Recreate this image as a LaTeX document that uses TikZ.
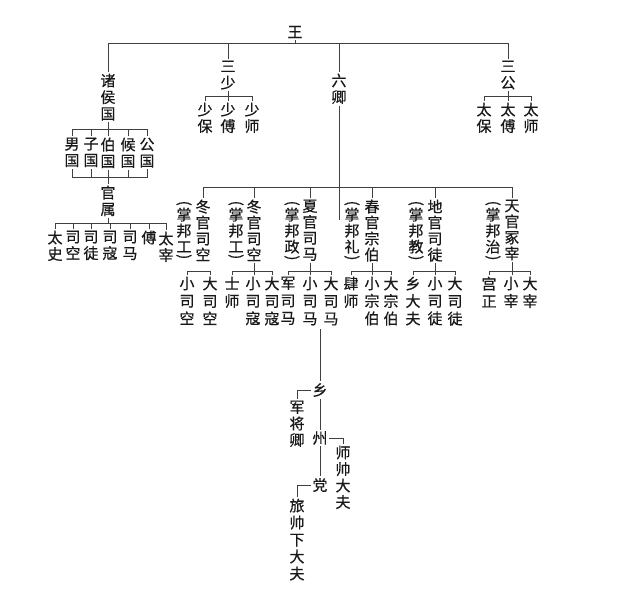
\documentclass[tikz,border=0pt]{standalone}
\usepackage{fontspec}
\usepackage{graphicx}
\newfontfamily\cjk{Noto Sans CJK SC}[FakeBold=0.5]
\begin{document}
\begin{tikzpicture}[x=1pt,y=-1pt,
  txt/.style={font=\cjk\fontsize{15}{16.5}\selectfont, text=black!90, inner sep=1.5pt, align=center},
  vt/.style={txt, anchor=north},
  vtm/.style={txt, anchor=north, font=\cjk\fontsize{15}{16}\selectfont},
  vtw/.style={txt, anchor=north, font=\cjk\fontsize{15}{17.5}\selectfont},
  par/.style={txt, inner sep=0pt},
  ln/.style={draw=black!75, line width=1pt}]
\useasboundingbox[fill=white] (0,0) rectangle (640,602);

% ---- top level
\node[txt] (wang) at (295,32) {王};
\node[vt] (zhuhou) at (108,72) {诸\\侯\\国};
\node[vt] (sanshao) at (228,59) {三\\少};
\node[vt] (liuqing) at (339,72) {六\\卿};
\node[vt] (sangong) at (508,59) {三\\公};
\coordinate (topbar) at (0,44);
\draw[ln] (wang.south) -- (wang.south |- topbar);
\draw[ln] (zhuhou.north) -- (zhuhou.north |- topbar) -- (sangong.north |- topbar) -- (sangong.north);
\draw[ln] (sanshao.north) -- (sanshao.north |- topbar);
\draw[ln] (liuqing.north) -- (liuqing.north |- topbar);

% ---- san shao
\node[vt] (sb) at (205,101) {少\\保};
\node[vt] (sf) at (228,101) {少\\傅};
\node[vt] (ss) at (252,101) {少\\师};
\coordinate (sbar) at (0,96);
\draw[ln] (sb.north) -- (sb.north |- sbar) -- (ss.north |- sbar) -- (ss.north);
\draw[ln] (sanshao.south) -- (sf.north);

% ---- san gong
\node[vt] (tb) at (484,101) {太\\保};
\node[vt] (tf) at (508,101) {太\\傅};
\node[vt] (ts) at (531,101) {太\\师};
\draw[ln] (tb.north) -- (tb.north |- sbar) -- (ts.north |- sbar) -- (ts.north);
\draw[ln] (sangong.south) -- (tf.north);

% ---- zhu hou guo
\node[vt] (n1) at (72,136) {男\\国};
\node[vt] (n2) at (91,136) {子\\国};
\node[vt] (n3) at (108,136) {伯\\国};
\node[vt] (n4) at (128,136) {候\\国};
\node[vt] (n5) at (147,136) {公\\国};
\coordinate (zbar) at (0,129);
\draw[ln] (n1.north) -- (n1.north |- zbar) -- (n5.north |- zbar) -- (n5.north);
\foreach \n in {n2,n3,n4} \draw[ln] (\n.north) -- (\n.north |- zbar);
\draw[ln] (zhuhou.south) -- (zhuhou.south |- zbar);
\coordinate (gbar) at (0,177);
\draw[ln] (n1.south) -- (n1.south |- gbar) -- (n5.south |- gbar) -- (n5.south);
\foreach \n in {n2,n3,n4} \draw[ln] (\n.south) -- (\n.south |- gbar);
\node[vt] (guanshu) at (108,184) {官\\属};
\draw[ln] (guanshu.north) -- (guanshu.north |- gbar);

% ---- guan shu children
\node[vt] (g1) at (55,229) {太\\史};
\node[vt] (g2) at (73,229) {司\\空};
\node[vt] (g3) at (91,229) {司\\徒};
\node[vt] (g4) at (110,229) {司\\寇};
\node[vt] (g5) at (130,229) {司\\马};
\node[vt] (g6) at (149,229) {傅};
\node[vt] (g7) at (166,230) {太\\宰};
\coordinate (obar) at (0,223.5);
\draw[ln] (g1.north) -- (g1.north |- obar) -- (g7.north |- obar) -- (g7.north);
\foreach \n in {g2,g3,g4,g5,g6} \draw[ln] (\n.north) -- (\n.north |- obar);
\draw[ln] (guanshu.south) -- (guanshu.south |- obar);

% ---- six ministries
\node[vtm] (m1) at (203,198) {冬\\官\\司\\空};
\node[vtm] (m2) at (254,198) {冬\\官\\司\\空};
\node[vtm] (m3) at (310,198) {夏\\官\\司\\马};
\node[vtm] (m4) at (372,198) {春\\官\\宗\\伯};
\node[vtm] (m5) at (435,198) {地\\官\\司\\徒};
\node[vtm] (m6) at (512,198) {天\\官\\冢\\宰};
% (zhang bang ...) columns
\node[vtm] (pt1) at (184,206) {掌\\邦\\工};
\node[vtm] (pt2) at (236,206) {掌\\邦\\工};
\node[vtm] (pt3) at (292,206) {掌\\邦\\政};
\node[vtm] (pt4) at (352,206) {掌\\邦\\礼};
\node[vtm] (pt5) at (416,206) {掌\\邦\\教};
\node[vtm] (pt6) at (493,206) {掌\\邦\\治};
\foreach \i in {1,...,6} {
  \node[par, anchor=south] (po\i) at (pt\i.north) {\rotatebox{-90}{(}};
  \node[par, anchor=north] (pc\i) at (pt\i.south) {\rotatebox{-90}{)}};
}
\coordinate (mbar) at (0,187);
\coordinate (lqend) at (339,220);
\draw[ln] (liuqing.south) -- (lqend);
\draw[ln] (m1.north) -- (m1.north |- mbar) -- (m6.north |- mbar) -- (m6.north);
\foreach \n in {m2,m3,m4,m5} \draw[ln] (\n.north) -- (\n.north |- mbar);

% ---- ministry children
\node[vtw] (c11) at (187,275) {小\\司\\空};
\node[vtw] (c12) at (210,275) {大\\司\\空};
\node[vtw] (c21) at (232,275) {士\\师};
\node[vtw] (c22) at (253,275) {小\\司\\寇};
\node[vtw] (c23) at (272,275) {大\\司\\寇};
\node[vtw] (c31) at (288,275) {军\\司\\马};
\node[vtw] (c32) at (310,275) {小\\司\\马};
\node[vtw] (c33) at (331,275) {大\\司\\马};
\node[vtw] (c41) at (351,275) {肆\\师};
\node[vtw] (c42) at (372,275) {小\\宗\\伯};
\node[vtw] (c43) at (391,275) {大\\宗\\伯};
\node[vtw] (c51) at (413,275) {乡\\大\\夫};
\node[vtw] (c52) at (435,275) {小\\司\\徒};
\node[vtw] (c53) at (455,275) {大\\司\\徒};
\node[vtw] (c61) at (489,275) {宫\\正};
\node[vtw] (c62) at (511,275) {小\\宰};
\node[vtw] (c63) at (530,275) {大\\宰};
\coordinate (cbar) at (0,271.5);
\draw[ln] (c11.north) -- (c11.north |- cbar) -- (c12.north |- cbar) -- (c12.north);
\foreach \i in {2,...,6} {
  \draw[ln] (c\i1.north) -- (c\i1.north |- cbar) -- (c\i3.north |- cbar) -- (c\i3.north);
  \draw[ln] (m\i.south) -- (m\i.south |- c\i2.north);
}

% ---- local chain
\coordinate (chainstart) at (320,329);
\node[txt] (xiang) at (320,390) {乡};
\node[vt] (jj) at (297,399) {军\\将\\卿};
\node[txt] (zhou) at (320,438) {州};
\node[vt] (sh) at (343,444) {师\\帅\\大\\夫};
\node[txt] (dang) at (320,485) {党};
\node[vt, font=\cjk\fontsize{15}{17}\selectfont] (lv) at (297,497) {旅\\帅\\下\\大\\夫};
\draw[ln] (chainstart) -- (chainstart |- xiang.north);
\draw[ln] (xiang.south) -- (zhou.north);
\draw[ln] (zhou.south) -- (dang.north);
\draw[ln] (xiang.west) -| (jj.north);
\draw[ln] (zhou.east) -| (sh.north);
\draw[ln] (dang.west) -| (lv.north);
\end{tikzpicture}
\end{document}
